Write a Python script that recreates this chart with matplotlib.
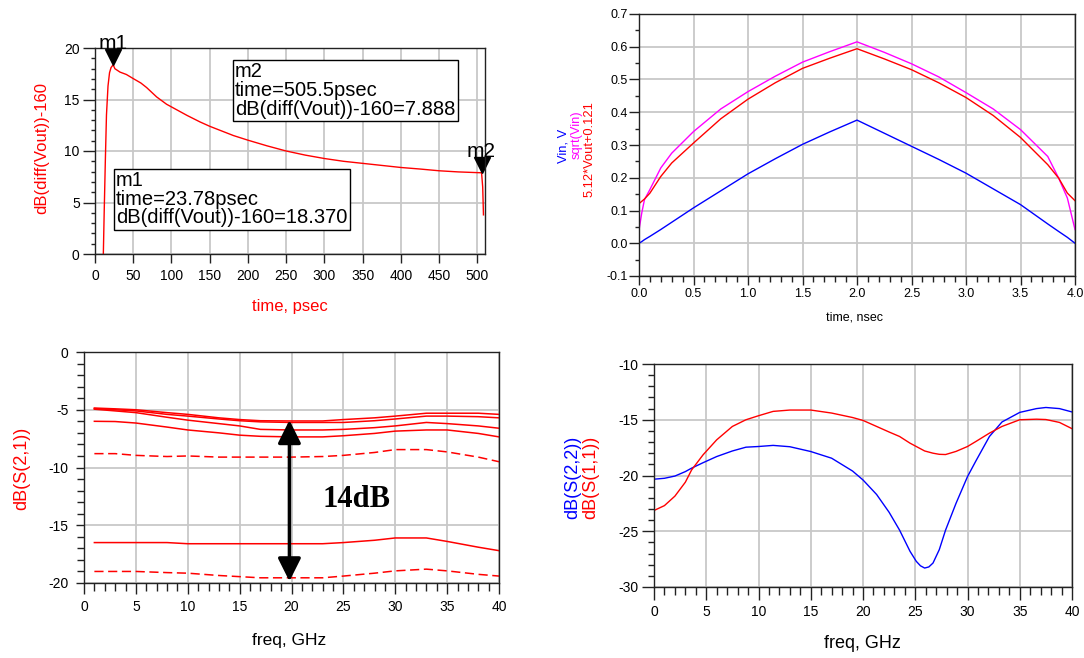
import numpy as np
import matplotlib
matplotlib.use("Agg")
import matplotlib.pyplot as plt
from matplotlib.ticker import MultipleLocator, FormatStrFormatter
from matplotlib.transforms import offset_copy

plt.rcParams['font.family'] = ['Liberation Sans', 'DejaVu Sans']
plt.rcParams['axes.unicode_minus'] = False

# top-left: dB(diff(Vout))-160 vs time (psec)
tl_t = [10.9, 12, 13.5, 15, 17, 19, 21, 23.78, 26, 32.7, 41, 50, 60, 67.5, 80.6, 93.6,
        100, 120.5, 137.4, 150, 181, 200, 225, 250, 275, 300, 325, 350, 375, 400, 425, 450,
        475, 500, 505.5, 507, 508]
tl_db = [0, 4, 9, 13.5, 16.3, 17.6, 18.1, 18.37, 17.99, 17.66, 17.43, 17.03, 16.6, 16.16,
         15.25, 14.54, 14.28, 13.45, 12.82, 12.4, 11.5, 11.05, 10.5, 10.0, 9.6, 9.27, 9.0,
         8.8, 8.6, 8.4, 8.25, 8.08, 7.97, 7.9, 7.888, 6.5, 3.8]
m1 = (23.78, 18.370)
m2 = (505.5, 7.888)

# top-right: Vin, sqrt(Vin), 5.12*Vout+0.121 vs time (nsec)
tr_t = [0, 0.025, 0.05, 0.1, 0.2, 0.3, 0.5, 0.75, 1.0, 1.25, 1.5, 1.75, 2.0, 2.25, 2.5,
        2.75, 3.0, 3.25, 3.5, 3.75, 3.85, 3.93, 4.0]
vin = [0, 0.005, 0.011, 0.021, 0.042, 0.064, 0.108, 0.16, 0.212, 0.258, 0.302, 0.34, 0.376,
       0.336, 0.296, 0.256, 0.214, 0.166, 0.118, 0.059, 0.036, 0.018, 0.0]
sqrt_vin = [0.04, 0.092, 0.133, 0.164, 0.23, 0.275, 0.341, 0.41, 0.463, 0.51, 0.553, 0.585,
            0.615, 0.583, 0.548, 0.508, 0.46, 0.41, 0.347, 0.265, 0.199, 0.138, 0.042]
vout_scaled = [0.121, 0.128, 0.135, 0.153, 0.204, 0.245, 0.306, 0.38, 0.44, 0.49, 0.534,
               0.565, 0.594, 0.563, 0.53, 0.49, 0.445, 0.39, 0.323, 0.24, 0.199, 0.153, 0.13]

# bottom-left: dB(S(2,1)) vs freq (GHz)
bl_f = [1, 3, 5, 8, 10, 13, 15, 17, 20, 23, 25, 28, 30, 33, 35, 38, 40]
s21_a = [-4.85, -4.92, -5.0, -5.25, -5.4, -5.7, -5.85, -5.95, -5.97, -5.97, -5.85, -5.7,
         -5.55, -5.3, -5.3, -5.3, -5.4]
s21_b = [-4.9, -5.0, -5.1, -5.4, -5.55, -5.8, -5.95, -6.05, -6.1, -6.1, -6.1, -5.95, -5.8,
         -5.55, -5.55, -5.6, -5.7]
s21_c = [-4.95, -5.1, -5.25, -5.65, -5.9, -6.2, -6.4, -6.7, -6.75, -6.75, -6.7, -6.55, -6.4,
         -6.1, -6.2, -6.4, -6.6]
s21_d = [-6.0, -6.02, -6.15, -6.5, -6.75, -7.0, -7.2, -7.3, -7.35, -7.35, -7.25, -7.05,
         -6.85, -6.75, -6.75, -7.05, -7.35]
s21_e = [-8.8, -8.8, -8.95, -9.05, -9.0, -9.1, -9.1, -9.1, -9.1, -9.05, -8.95, -8.7, -8.45,
         -8.45, -8.65, -9.1, -9.5]
s21_f = [-16.5, -16.5, -16.5, -16.5, -16.6, -16.6, -16.6, -16.6, -16.6, -16.6, -16.5, -16.3,
         -16.1, -16.1, -16.4, -16.9, -17.2]
s21_g = [-19.0, -19.0, -19.0, -19.1, -19.15, -19.35, -19.45, -19.55, -19.55, -19.55, -19.4,
         -19.15, -18.95, -18.8, -18.95, -19.25, -19.4]
bl_series = [(s21_a, '-'), (s21_b, '-'), (s21_c, '-'), (s21_d, '-'),
             (s21_e, (0, (6, 3))), (s21_f, '-'), (s21_g, (0, (6, 3)))]

# bottom-right: dB(S(2,2)), dB(S(1,1)) vs freq (GHz)
br_f = [0, 1, 2, 3, 3.6, 4.7, 6, 7.5, 8.8, 10, 11.4, 13, 15, 17, 19, 20, 21.3, 22.5, 23.5,
        24.5, 25.1, 25.5, 25.9, 26.3, 26.7, 27.3, 27.9, 28.9, 30, 30.8, 32.1, 33.3, 35, 36.6,
        37.5, 38.8, 40]
s22 = [-20.33, -20.25, -20.05, -19.65, -19.34, -18.85, -18.3, -17.8, -17.46, -17.4, -17.3,
       -17.42, -17.85, -18.45, -19.6, -20.4, -21.7, -23.3, -24.9, -26.8, -27.7, -28.1, -28.3,
       -28.2, -27.85, -26.65, -24.9, -22.5, -20.1, -18.7, -16.5, -15.2, -14.34, -14.0, -13.9,
       -14.0, -14.3]
s11 = [-23.14, -22.7, -21.85, -20.6, -19.5, -18.14, -16.8, -15.6, -15.0, -14.64, -14.25,
       -14.13, -14.13, -14.4, -14.8, -15.06, -15.6, -16.1, -16.5, -17.1, -17.4, -17.6, -17.8,
       -17.9, -18.0, -18.1, -18.12, -17.84, -17.4, -16.95, -16.2, -15.6, -15.0, -14.95,
       -14.98, -15.24, -15.8]

W, H = 1084, 658
fig = plt.figure(figsize=(W / 100, H / 100), dpi=100)


def px_axes(left, top, right, bottom):
    return fig.add_axes([left / W, 1 - bottom / H, (right - left) / W, (bottom - top) / H])


def style(ax, fs, xmaj, xmin, xpad, ymaj, ymin, ypad):
    ax.grid(True, which='major', color='#c8c8c8', lw=1.3)
    ax.set_axisbelow(True)
    for sp in ax.spines.values():
        sp.set_color('#222222')
        sp.set_linewidth(1.0)
    ax.tick_params(which='both', direction='out', width=1, labelsize=fs,
                   colors='#222222', labelcolor='black')
    ax.tick_params(axis='x', which='major', length=xmaj, pad=xpad)
    ax.tick_params(axis='x', which='minor', length=xmin)
    ax.tick_params(axis='y', which='major', length=ymaj, pad=ypad)
    ax.tick_params(axis='y', which='minor', length=ymin)


def vlabel(x, y, txt, col, fs):
    fig.text(x / W, 1 - y / H, txt, color=col, fontsize=fs, rotation=90,
             ha='center', va='center')


def hlabel(x, y, txt, col, fs):
    fig.text(x / W, 1 - y / H, txt, color=col, fontsize=fs, ha='center', va='center')


# ---- top-left
ax1 = px_axes(95, 48, 485, 254)
ax1.plot(tl_t, tl_db, color='red', lw=1.0)
ax1.set_xlim(0, 510)
ax1.set_ylim(0, 20)
ax1.set_xticks(np.arange(0, 501, 50))
ax1.set_yticks(np.arange(0, 21, 5))
ax1.yaxis.set_minor_locator(MultipleLocator(1))
style(ax1, 10, 6.5, 3, 4.5, 9, 3, 2)
for (mx, my), name in [(m1, 'm1'), (m2, 'm2')]:
    tr = offset_copy(ax1.transData, fig=fig, y=5.5, units='points')
    ax1.plot([mx], [my], marker='v', ms=11, color='black', transform=tr, clip_on=False)
    ax1.annotate(name, (mx, my), xytext=(0, 11.5), textcoords='offset points',
                 ha='center', va='baseline', fontsize=15, annotation_clip=False)
box = dict(boxstyle='square,pad=0.12', fc='white', ec='black', lw=1)
ax1.text(183, 18.6, 'm2\ntime=505.5psec\ndB(diff(Vout))-160=7.888', fontsize=14.5,
         va='top', ha='left', linespacing=0.98, bbox=box)
ax1.text(27.4, 8.05, 'm1\ntime=23.78psec\ndB(diff(Vout))-160=18.370', fontsize=14.5,
         va='top', ha='left', linespacing=0.98, bbox=box)
vlabel(42, 148, 'dB(diff(Vout))-160', 'red', 12)
hlabel(290, 307, 'time, psec', 'red', 12)

# ---- top-right
ax2 = px_axes(639, 14, 1075, 276)
ax2.plot(tr_t, vin, color='blue', lw=1.0)
ax2.plot(tr_t, sqrt_vin, color='magenta', lw=1.0)
ax2.plot(tr_t, vout_scaled, color='red', lw=1.0)
ax2.set_xlim(0, 4)
ax2.set_ylim(-0.1, 0.7)
ax2.set_xticks(np.arange(0, 4.01, 0.5))
ax2.set_yticks(np.arange(-0.1, 0.71, 0.1))
ax2.xaxis.set_major_formatter(FormatStrFormatter('%.1f'))
ax2.yaxis.set_major_formatter(FormatStrFormatter('%.1f'))
ax2.xaxis.set_minor_locator(MultipleLocator(0.1))
ax2.yaxis.set_minor_locator(MultipleLocator(0.05))
style(ax2, 9, 6.5, 4, 2, 7, 3, 1)
vlabel(563, 146, 'Vin, V', 'blue', 9.3)
vlabel(577, 135, 'sqrt(Vin)', 'magenta', 9.3)
vlabel(590, 149.5, '5.12*Vout+0.121', 'red', 9.3)
hlabel(854, 318, 'time, nsec', 'black', 9)

# ---- bottom-left
ax3 = px_axes(84, 352, 499, 583)
for vals, ls in bl_series:
    ax3.plot(bl_f, vals, color='red', lw=1.1, ls=ls)
ax3.set_xlim(0, 40)
ax3.set_ylim(-20, 0)
ax3.set_xticks(np.arange(0, 41, 5))
ax3.set_yticks(np.arange(-20, 1, 5))
ax3.xaxis.set_minor_locator(MultipleLocator(1))
ax3.yaxis.set_minor_locator(MultipleLocator(1))
style(ax3, 10, 8, 5.5, 4.5, 6, 5, 5)
ax3.annotate('', xy=(19.8, -5.9), xytext=(19.8, -19.85),
             arrowprops=dict(arrowstyle='<|-|>,head_length=0.7,head_width=0.35',
                             color='black', lw=2.5, shrinkA=0, shrinkB=0, mutation_scale=20))
ax3.text(26.3, -12.8, '14dB', fontsize=22, fontweight='bold', ha='center', va='center',
         family=['Liberation Serif', 'DejaVu Serif'])
vlabel(22, 468, 'dB(S(2,1))', 'red', 13)
hlabel(289, 640, 'freq, GHz', 'black', 12.5)

# ---- bottom-right
ax4 = px_axes(654, 364, 1072, 587)
ax4.plot(br_f, s22, color='blue', lw=1.0)
ax4.plot(br_f, s11, color='red', lw=1.0)
ax4.set_xlim(0, 40)
ax4.set_ylim(-30, -10)
ax4.set_xticks(np.arange(0, 41, 5))
ax4.set_yticks(np.arange(-30, -9, 5))
ax4.xaxis.set_minor_locator(MultipleLocator(1))
ax4.yaxis.set_minor_locator(MultipleLocator(1))
style(ax4, 10, 9.5, 6, 3.5, 9, 4.5, 2)
vlabel(573, 477, 'dB(S(2,2))', 'blue', 13)
vlabel(591, 477, 'dB(S(1,1))', 'red', 13)
hlabel(862, 643, 'freq, GHz', 'black', 13)

fig.savefig('out.png', dpi=100)
